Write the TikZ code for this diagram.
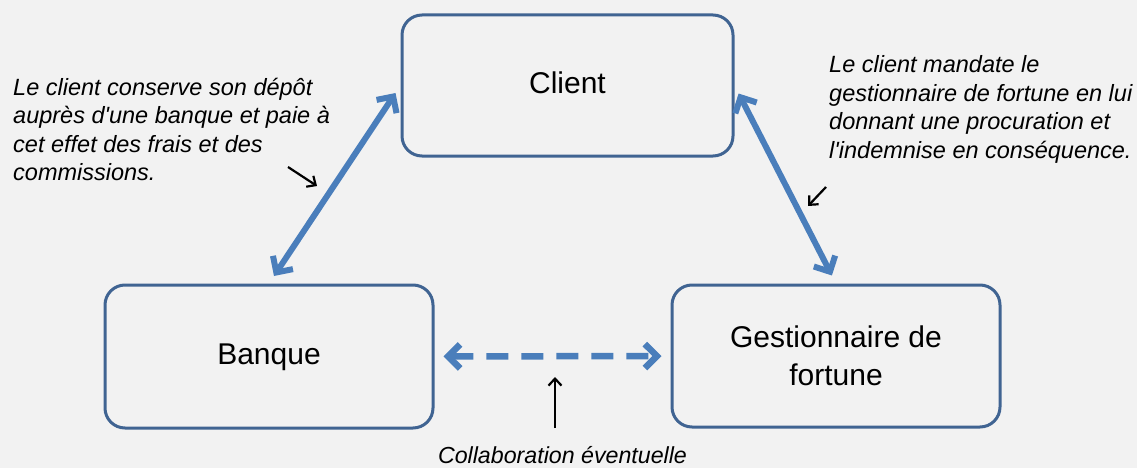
\documentclass[tikz,border=0pt]{standalone}
\usepackage{fontspec}
\setmainfont{Liberation Sans}
\usetikzlibrary{arrows.meta}
\definecolor{bgcol}{HTML}{F2F2F2}
\definecolor{boxcol}{RGB}{64,100,146}
\definecolor{linkcol}{RGB}{74,126,187}
\tikzset{
  party/.style={draw=boxcol, line width=3pt, rounded corners=20pt,
    inner sep=0pt, font=\fontsize{30}{38}\selectfont, align=center},
  link/.style={draw=linkcol, line width=6pt,
    {Straight Barb[length=12pt,width=24pt]}-{Straight Barb[length=12pt,width=24pt]},
    shorten <=9pt, shorten >=9pt},
  maybelink/.style={link, line width=6.5pt, dash pattern=on 22pt off 13pt},
  note/.style={font=\fontsize{23.5}{28.6}\selectfont\itshape, align=left,
    inner sep=0pt, anchor=north west},
  pointer/.style={draw=black, line width=2.2pt, -{Straight Barb[length=7pt,width=13pt]}}
}
\begin{document}
\begin{tikzpicture}[x=1pt,y=-1pt]
  % canvas
  \fill[bgcol] (0,0) rectangle (1137,468);
  \useasboundingbox (0,0) rectangle (1137,468);

  % the three parties
  \node[party, minimum width=331pt, minimum height=141pt,
        text height=22pt, text depth=6pt] (client) at (567.5,85.5) {Client};
  \node[party, minimum width=328pt, minimum height=143pt,
        text height=22pt, text depth=6pt] (banque) at (269,356.5) {Banque};
  \node[party, minimum width=328pt, minimum height=142pt] (gerant) at (836,356)
        {Gestionnaire de\\fortune};

  % relations between them
  \draw[link] (client.west) -- (banque.north);
  \draw[link] (client.east) -- (gerant.north);
  \draw[maybelink] (banque.east) -- (gerant.west);

  % explanations
  \node[note] (noteBanque) at (13,77.5)
    {Le client conserve son dépôt\\auprès d\textquotesingle une banque et paie à\\cet effet des frais et des\\commissions.};
  \node[note] (noteGerant) at (829,55.5)
    {Le client mandate le\\gestionnaire de fortune en lui\\donnant une procuration et\\l\textquotesingle indemnise en conséquence.};
  \node[font=\fontsize{23.2}{28}\selectfont\itshape, inner sep=0pt, anchor=base]
    (noteCollab) at (562.5,463) {Collaboration éventuelle};

  % pointers from the explanations to the links
  \coordinate (pA0) at (288,167); \coordinate (pA1) at (317,186);
  \coordinate (pB0) at (826,187); \coordinate (pB1) at (808,206);
  \coordinate (pC0) at (555,428); \coordinate (pC1) at (555,377);
  \draw[pointer] (pA0) -- (pA1);
  \draw[pointer] (pB0) -- (pB1);
  \draw[pointer] (pC0) -- (pC1);
\end{tikzpicture}
\end{document}
